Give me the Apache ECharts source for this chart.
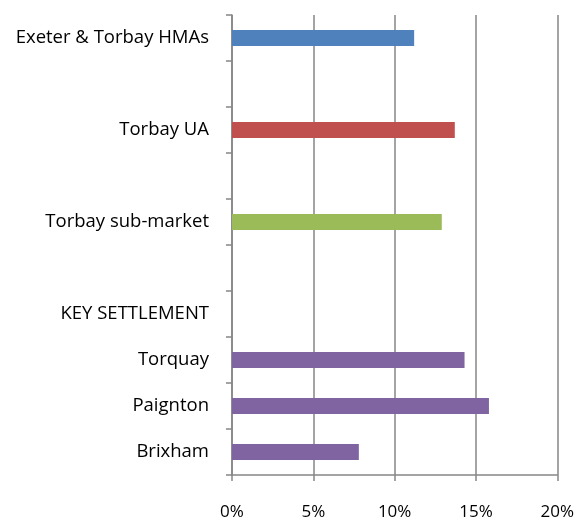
<!DOCTYPE html>
<html>
<head>
<meta charset="utf-8">
<script src="https://cdn.jsdelivr.net/npm/echarts@6/dist/echarts.min.js"></script>
<style>html,body{margin:0;padding:0;background:#fff}#c{width:577px;height:521px}</style>
</head>
<body>
<div id="c"></div>
<script>
// Categories listed top to bottom
const categories = ["Exeter & Torbay HMAs", "", "Torbay UA", "", "Torbay sub-market", "", "KEY SETTLEMENT", "Torquay", "Paignton", "Brixham"];
const values = [11.2, null, 13.7, null, 12.9, null, null, 14.3, 15.8, 7.8];
const barColors = ["#4F81BD", null, "#C0504D", null, "#9BBB59", null, null, "#8064A2", "#8064A2", "#8064A2"];
const xTicks = [0, 5, 10, 15, 20];

const chart = echarts.init(document.getElementById('c'), null, {renderer: 'canvas'});
const axisColor = '#868686';
const font = '"Open Sans", "Noto Sans", sans-serif';
chart.setOption({
  animation: false,
  grid: {left: 232, right: 17, top: 15, bottom: 44, containLabel: false},
  xAxis: {
    type: 'value', min: xTicks[0], max: xTicks[xTicks.length - 1], interval: 5,
    axisLine: {show: true, lineStyle: {color: axisColor, width: 1.5}},
    axisTick: {show: true, length: 6, lineStyle: {color: axisColor, width: 1.5}},
    splitLine: {show: true, lineStyle: {color: axisColor, width: 1.5}},
    axisLabel: {formatter: v => v + '%', color: '#000', fontFamily: font, fontSize: 17, margin: 29}
  },
  yAxis: {
    type: 'category', data: categories, inverse: true,
    axisLine: {show: true, lineStyle: {color: axisColor, width: 1.5}},
    axisTick: {show: true, length: 6, alignWithLabel: false, interval: 0, lineStyle: {color: axisColor, width: 1.5}},
    axisLabel: {color: '#000', fontFamily: font, fontSize: 18.5, margin: 23, interval: 0}
  },
  series: [{
    type: 'bar', barWidth: 16,
    data: values.map((v, i) => ({value: v, itemStyle: {color: barColors[i] || '#000'}})),
    z: 3
  }]
});
</script>
</body>
</html>
